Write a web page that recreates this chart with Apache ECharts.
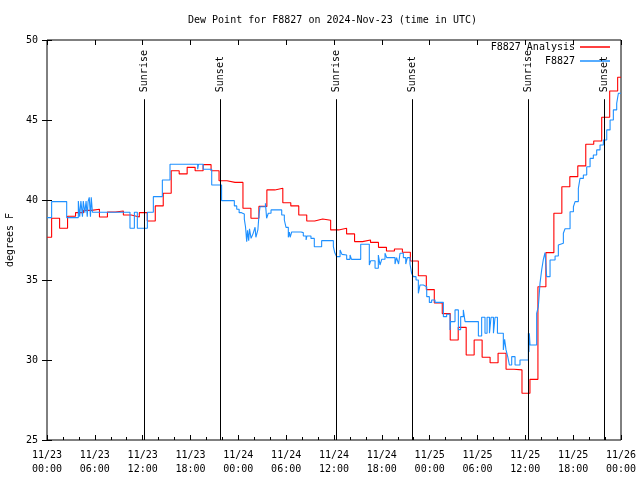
<!DOCTYPE html>
<html>
<head>
<meta charset="utf-8">
<script src="https://cdn.jsdelivr.net/npm/echarts@6/dist/echarts.min.js"></script>
<style>
html,body{margin:0;padding:0;background:#fff;}
#main{width:640px;height:480px;}
</style>
</head>
<body>
<div id="main"></div>
<script>
// ---- data ----
const titleText = 'Dew Point for F8827 on 2024-Nov-23 (time in UTC)';
const xTickLabels = ['11/23\n00:00','11/23\n06:00','11/23\n12:00','11/23\n18:00',
  '11/24\n00:00','11/24\n06:00','11/24\n12:00','11/24\n18:00',
  '11/25\n00:00','11/25\n06:00','11/25\n12:00','11/25\n18:00','11/26\n00:00'];
const yMin = 25, yMax = 50, yStep = 5;
const xMin = 0, xMax = 72, xStep = 6;   // hours since 11/23 00:00 UTC

// analysis (hourly), each value holds from its step time
const analysisValues = [37.67,38.86,38.23,38.98,39.21,39.35,39.42,38.94,39.25,39.31,
  39.06,38.94,39.21,38.69,39.63,40.42,41.83,41.63,42.04,41.83,
  42.21,41.83,41.20,41.10,41.10,39.48,38.86,39.60,40.63,40.73,
  39.83,39.63,39.06,38.69,38.81,38.73,38.13,38.23,37.88,37.40,
  37.50,37.35,37.04,36.81,36.94,36.73,36.19,35.27,34.40,33.56,
  32.90,31.25,32.04,30.31,31.25,30.17,29.83,30.42,29.42,29.38,
  27.92,28.79,34.58,36.71,39.17,40.83,41.46,42.13,43.48,43.69,
  45.17,46.81,47.67];
const analysisOffset = -0.42;

// station observations [hour, value]
const stationObs = [
  [0,38.9],[0.58,39.9],[2.47,38.9],[3.93,39.94],[4.1,38.96],[4.25,39.94],[4.45,38.96],
  [4.55,39.94],[4.75,39.2],[4.9,39.94],[5.05,38.96],[5.15,39.9],[5.3,40.17],[5.45,38.96],
  [5.55,40.17],[5.7,39.23],[10.41,38.23],[10.96,39.23],[11.33,38.23],[12.59,39.23],
  [13.34,40.21],[14.47,41.25],[15.43,42.23],[18.9,41.92],[19.0,42.23],[19.6,41.92],
  [20.66,40.94],[21.9,39.96],[23.5,39.63],[23.8,39.42],[24.1,39.21],[24.4,39.13],
  [24.75,38.8],[24.9,38.33],[25.05,37.4],[25.15,38.1],[25.3,37.46],[25.4,38.2],
  [25.6,37.6],[25.85,37.9],[26.1,38.3],[26.2,37.67],[26.45,38.13],[26.59,39.06],
  [26.72,39.58],[27.4,39.79],[27.55,38.86],[27.76,39.17],[28.1,39.38],[29.44,39.06],
  [29.77,38.75],[29.98,38.29],[30.27,37.67],[30.4,38.0],[30.5,37.67],[30.69,38.0],
  [31.86,37.96],[32.15,37.75],[32.5,37.5],[32.6,37.75],[33.11,37.6],[33.53,37.08],
  [34.45,37.46],[35.92,37.08],[36.1,36.7],[36.34,36.46],[36.76,36.88],[37.0,36.6],
  [37.17,36.56],[37.59,36.29],[38.01,36.56],[38.2,36.29],[39.35,37.23],[40.43,35.94],
  [40.6,36.2],[41.15,35.73],[41.56,36.56],[41.77,35.94],[42.0,36.3],[42.4,36.67],
  [42.61,36.4],[43.65,36.0],[43.85,36.4],[44.1,36.0],[44.28,36.67],[44.7,36.4],
  [45.0,36.0],[45.2,36.4],[45.53,36.0],[45.74,35.42],[45.95,35.21],[46.29,35.0],
  [46.58,34.17],[46.79,34.69],[47.21,34.58],[47.63,33.96],[47.96,33.6],[48.25,33.75],
  [48.67,33.6],[49.72,32.71],[50.13,32.86],[50.55,31.88],[50.63,32.4],[51.18,33.13],
  [51.6,31.9],[51.89,32.71],[52.22,33.13],[52.44,32.4],[54.11,31.5],[54.52,32.67],
  [54.94,31.67],[55.2,32.67],[55.5,31.67],[55.7,32.67],[56.0,31.67],[56.2,32.67],
  [56.5,31.67],[57.24,30.63],[57.4,31.3],[57.58,30.63],[57.79,30.21],[58.0,29.69],
  [58.29,30.21],[58.71,29.69],[59.33,30.0],[60.38,31.67],[60.45,30.5],[60.5,31.67],
  [60.59,30.94],[61.42,32.92],[61.63,33.33],[61.84,34.79],[62.05,35.63],[62.26,36.29],
  [62.47,36.71],[62.68,35.21],[63.1,36.25],[63.73,36.5],[64.14,37.19],[64.35,37.3],
  [64.77,37.92],[64.98,38.2],[65.61,39.27],[66.03,39.58],[66.24,39.9],[66.65,40.73],
  [66.86,41.35],[67.28,41.56],[67.7,42.08],[68.12,42.6],[68.53,42.81],[68.95,43.13],
  [69.37,43.44],[69.79,43.75],[70.21,44.38],[70.63,45.0],[71.04,45.63],[71.46,46.04],
  [71.67,46.67],[72.0,46.67]
];

const sunHours = [12.2, 21.7, 36.28, 45.82, 60.4, 69.9];
const sunLabels = ['Sunrise','Sunset','Sunrise','Sunset','Sunrise','Sunset'];
const sunLineTop = 46.3;

const seriesNames = ['F8827 Analysis', 'F8827'];
const seriesColors = ['#ff0000', '#1e90ff'];

// ---- build ----
const analysisData = analysisValues.map((v, i) => [Math.max(xMin, i + analysisOffset), v]);
analysisData.push([xMax, analysisValues[analysisValues.length - 1]]);

const FONT = 'DejaVu Sans Mono';
const GRID = {left: 47, right: 19, top: 40, bottom: 40};
const chart = echarts.init(document.getElementById('main'), null, {renderer: 'canvas'});

const axisCommon = {
  type: 'value',
  axisLine: {show: false},
  splitLine: {show: false},
  axisTick: {show: true, inside: true, length: 5, lineStyle: {color: '#000', width: 1}},
};

const option = {
  animation: false,
  backgroundColor: '#fff',
  title: {
    text: titleText, left: 183, top: 10,
    textStyle: {fontFamily: FONT, fontSize: 10, fontWeight: 'normal', color: '#000'}
  },
  grid: Object.assign({show: true, borderColor: '#000', borderWidth: 1, backgroundColor: 'transparent',
    containLabel: false, outerBoundsMode: 'none'}, GRID),
  legend: [
    {data: [seriesNames[0]], right: 30, top: 42, align: 'right', padding: 0, itemGap: 0,
     itemWidth: 30, itemHeight: 1.5, icon: 'rect',
     textStyle: {fontFamily: FONT, fontSize: 10, color: '#000'}},
    {data: [seriesNames[1]], right: 30, top: 56, align: 'right', padding: 0, itemGap: 0,
     itemWidth: 30, itemHeight: 1.5, icon: 'rect',
     textStyle: {fontFamily: FONT, fontSize: 10, color: '#000'}}
  ],
  xAxis: [
    Object.assign({}, axisCommon, {
      min: xMin, max: xMax, interval: xStep, position: 'bottom',
      minorTick: {show: true, splitNumber: 3, length: 3, lineStyle: {color: '#000'}},
      axisLabel: {
        margin: 8, color: '#000', fontFamily: FONT, fontSize: 10, lineHeight: 14,
        formatter: v => xTickLabels[Math.round((v - xMin) / xStep)] || ''
      }
    }),
    Object.assign({}, axisCommon, {
      min: xMin, max: xMax, interval: xStep, position: 'top',
      axisLabel: {show: false}
    })
  ],
  yAxis: [
    Object.assign({}, axisCommon, {
      min: yMin, max: yMax, interval: yStep, position: 'left',
      name: 'degrees F', nameLocation: 'middle', nameGap: 32, nameRotate: 90,
      nameTextStyle: {fontFamily: FONT, fontSize: 10, color: '#000'},
      axisLabel: {margin: 9, color: '#000', fontFamily: FONT, fontSize: 10}
    }),
    Object.assign({}, axisCommon, {
      min: yMin, max: yMax, interval: yStep, position: 'right',
      axisLabel: {show: false}
    })
  ],
  series: [
    {
      name: seriesNames[0], type: 'line', step: 'end', data: analysisData,
      xAxisIndex: 0, yAxisIndex: 0, showSymbol: false, symbol: 'none',
      color: seriesColors[0], lineStyle: {color: seriesColors[0], width: 1.1},
      z: 2, silent: true
    },
    {
      name: seriesNames[1], type: 'line', step: 'end', data: stationObs,
      xAxisIndex: 0, yAxisIndex: 0, showSymbol: false, symbol: 'none',
      color: seriesColors[1], lineStyle: {color: seriesColors[1], width: 1.1},
      z: 3, silent: true
    },
    {
      name: 'sun', type: 'line', data: [], xAxisIndex: 0, yAxisIndex: 0, z: 4, silent: true,
      markLine: {
        silent: true, symbol: ['none', 'none'], animation: false,
        lineStyle: {color: '#000', width: 1, type: 'solid'},
        label: {show: false},
        data: sunHours.map(h => [{coord: [h, yMin]}, {coord: [h, sunLineTop]}])
      }
    }
  ]
};
chart.setOption(option);

// sunrise / sunset labels, placed from the axis scale
const labelGraphics = sunHours.map((h, i) => {
  const px = chart.convertToPixel({xAxisIndex: 0}, h);
  const py = chart.convertToPixel({yAxisIndex: 0}, sunLineTop);
  return {
    type: 'text', x: px, y: py - 7, rotation: Math.PI / 2, z: 10, silent: true,
    style: {text: sunLabels[i], fill: '#000', font: '10px "' + FONT + '"',
            textAlign: 'left', textVerticalAlign: 'middle'}
  };
});
chart.setOption({graphic: labelGraphics});
</script>
</body>
</html>
